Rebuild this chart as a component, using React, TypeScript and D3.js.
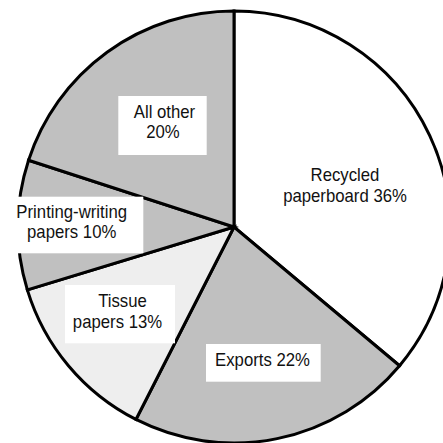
import React from "react";
import * as d3 from "d3";

const categories = ["Recycled paperboard", "Exports", "Tissue papers", "Printing-writing papers", "All other"];
const values = [36.1, 21.4, 12.8, 9.7, 20.0];
const fills = ["#ffffff", "#c0c0c0", "#eeeeee", "#c0c0c0", "#c0c0c0"];
const labelLines = [
  ["Recycled", "paperboard 36%"],
  ["Exports 22%"],
  ["Tissue", "papers 13%"],
  ["Printing-writing", "papers 10%"],
  ["All other", "20%"],
];

// label layout (box + text line anchors)
const labelLayout = [
  { box: null, lines: [[345, 181], [345, 201.5]] },
  { box: [206, 344, 114.7, 37.7], lines: [[262.5, 366]] },
  { box: [65, 285, 110, 58.3], lines: [[122.5, 306.7], [117.5, 327.5]] },
  { box: [0, 196.7, 143.3, 56.6], lines: [[71.7, 218.3], [71.7, 237.5]] },
  { box: [118.3, 96, 88.4, 59], lines: [[164.5, 118.3], [163, 137.7]] },
];

const W = 443, H = 443;
const cx = 234, cy = 227, R = 216;

export default function App() {
  const pie = d3.pie<number>().sort(null).startAngle(0).endAngle(2 * Math.PI).value((d) => d);
  const arcs = pie(values);
  const arc = d3.arc<d3.PieArcDatum<number>>().innerRadius(0).outerRadius(R);
  return (
    <svg width={W} height={H} style={{ position: "absolute", left: 0, top: 0, background: "#fff" }}
      fontFamily="'Liberation Sans', Arial, sans-serif">
      <g transform={`translate(${cx},${cy})`}>
        {arcs.map((a, i) => (
          <path key={categories[i]} d={arc(a) || ""} fill={fills[i]} stroke="#000" strokeWidth={3} strokeLinejoin="miter" />
        ))}
      </g>
      {labelLayout.map((l, i) => (
        <g key={"lab" + i}>
          {l.box && <rect x={l.box[0]} y={l.box[1]} width={l.box[2]} height={l.box[3]} fill="#fff" />}
          {labelLines[i].map((t, j) => (
            <text key={j} transform={`translate(${l.lines[j][0]},${l.lines[j][1]}) scale(0.93,1)`}
              textAnchor="middle" fontSize={18} fill="#111">{t}</text>
          ))}
        </g>
      ))}
    </svg>
  );
}
